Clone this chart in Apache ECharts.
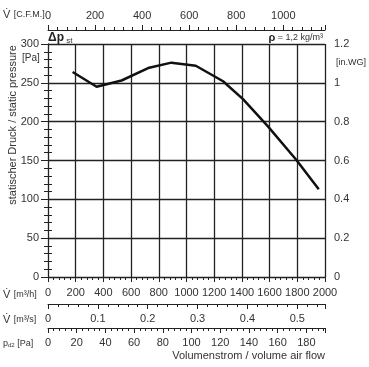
<!DOCTYPE html>
<html><head><meta charset="utf-8">
<script src="https://cdn.jsdelivr.net/npm/echarts@6/dist/echarts.min.js"></script>
<style>html,body{margin:0;padding:0;background:#fff}#c{width:369px;height:367px}</style>
</head><body><div id="c"></div>
<script>
// Data
const flowM3h = [178, 351, 531, 723, 891, 1067, 1264, 1408, 1588, 1792, 1955];
const pressurePa = [264, 245, 253, 269, 276, 272, 252, 229, 194, 151, 113];
// Axis ranges
const flowMax = 2000;             // m³/h
const flowM3sMax = 2000 / 3600;   // m³/s
const cfmMax = 2000 / 1.699;      // C.F.M.
const pdMax = 193;                // Pa (dynamic pressure)
const paMax = 300, inwgMax = 1.2;

const FONT = '"Liberation Sans", Arial, sans-serif';
const TXT = '#333';
const LN = '#222';
const fmt = v => String(+(+v).toFixed(3));
const chart = echarts.init(document.getElementById('c'));

function xAx(o) {
  return Object.assign({
    type: 'value', position: 'bottom', min: 0,
    axisLine: {show: true, onZero: false, lineStyle: {color: LN, width: 1}},
    axisTick: {show: true, length: 5, lineStyle: {color: LN}},
    minorTick: {show: true, splitNumber: 5, length: 3, lineStyle: {color: LN}},
    splitLine: {show: false},
    axisLabel: {color: TXT, fontFamily: FONT, fontSize: 11, margin: 9, showMaxLabel: false, formatter: fmt}
  }, o);
}

const option = {
  animation: false,
  grid: {left: 48, right: 44, top: 44, bottom: 90, containLabel: false},
  xAxis: [
    xAx({max: flowMax, interval: 200, splitLine: {show: true, lineStyle: {color: LN, width: 1.3}},
         axisLabel: {color: TXT, fontFamily: FONT, fontSize: 11, margin: 10, showMaxLabel: true, formatter: fmt}}),
    xAx({max: flowM3sMax, interval: 0.1, offset: 27}),
    xAx({max: pdMax, interval: 20, offset: 51}),
    xAx({position: 'top', max: cfmMax, interval: 200, offset: 14})
  ],
  yAxis: [
    {type: 'value', position: 'left', min: 0, max: paMax, interval: 50,
     axisLine: {show: true, lineStyle: {color: LN}},
     axisTick: {show: true, length: 7, lineStyle: {color: LN}},
     minorTick: {show: true, splitNumber: 5, length: 4, lineStyle: {color: LN}},
     splitLine: {show: true, lineStyle: {color: LN, width: 1.3}},
     axisLabel: {color: TXT, fontFamily: FONT, fontSize: 11, margin: 9, formatter: fmt}},
    {type: 'value', position: 'right', min: 0, max: inwgMax, interval: 0.2,
     axisLine: {show: true, lineStyle: {color: LN}},
     axisTick: {show: true, length: 7, lineStyle: {color: LN}},
     minorTick: {show: true, splitNumber: 5, length: 4, lineStyle: {color: LN}},
     splitLine: {show: false},
     axisLabel: {color: TXT, fontFamily: FONT, fontSize: 11, margin: 9, formatter: fmt}}
  ],
  series: [{
    type: 'line', xAxisIndex: 0, yAxisIndex: 0, symbol: 'none',
    lineStyle: {color: '#111', width: 2.5},
    data: flowM3h.map((f, i) => [f, pressurePa[i]])
  }],
  graphic: [
    {type: 'text', x: 3, y: 15, style: {text: '{v|V̇} {u|[C.F.M.]}', verticalAlign: 'middle',
      rich: {v: {fontFamily: FONT, fontSize: 11, fill: TXT}, u: {fontFamily: FONT, fontSize: 9, fill: TXT}}}},
    {type: 'text', x: 48, y: 38, style: {text: '{d|Δp}{s| st}', verticalAlign: 'middle',
      rich: {d: {fontFamily: FONT, fontSize: 12, fontWeight: 'bold', fill: '#222'}, s: {fontFamily: FONT, fontSize: 8, fill: TXT, padding: [5, 0, 0, 0]}}}},
    {type: 'text', x: 323, y: 38, style: {text: '{r|ρ}{t| = 1,2 kg/m³}', align: 'right', verticalAlign: 'middle',
      rich: {r: {fontFamily: FONT, fontSize: 11, fontWeight: 'bold', fill: '#222'}, t: {fontFamily: FONT, fontSize: 9, fill: TXT}}}},
    {type: 'text', x: 22, y: 58, style: {text: '[Pa]', verticalAlign: 'middle', font: '10px ' + FONT, fill: TXT}},
    {type: 'text', x: 336, y: 63, style: {text: '[in.WG]', verticalAlign: 'middle', font: '9px ' + FONT, fill: TXT}},
    {type: 'text', x: 13, y: 125, rotation: Math.PI / 2,
     style: {text: 'statischer Druck / static pressure', align: 'center', verticalAlign: 'middle', font: '11px ' + FONT, fill: TXT}},
    {type: 'text', x: 3, y: 295, style: {text: '{v|V̇} {u|[m³/h]}', verticalAlign: 'middle',
      rich: {v: {fontFamily: FONT, fontSize: 11, fill: TXT}, u: {fontFamily: FONT, fontSize: 9, fill: TXT}}}},
    {type: 'text', x: 3, y: 320, style: {text: '{v|V̇} {u|[m³/s]}', verticalAlign: 'middle',
      rich: {v: {fontFamily: FONT, fontSize: 11, fill: TXT}, u: {fontFamily: FONT, fontSize: 9, fill: TXT}}}},
    {type: 'text', x: 3, y: 344, style: {text: '{p|p}{s|d2}{u| [Pa]}', verticalAlign: 'middle',
      rich: {p: {fontFamily: FONT, fontSize: 9, fill: TXT}, s: {fontFamily: FONT, fontSize: 6, fill: TXT, padding: [3, 0, 0, 0]}, u: {fontFamily: FONT, fontSize: 9, fill: TXT}}}},
    {type: 'text', x: 325, y: 356, style: {text: 'Volumenstrom / volume air flow', align: 'right', verticalAlign: 'middle', font: '11px ' + FONT, fill: TXT}}
  ]
};
chart.setOption(option);
</script></body></html>
